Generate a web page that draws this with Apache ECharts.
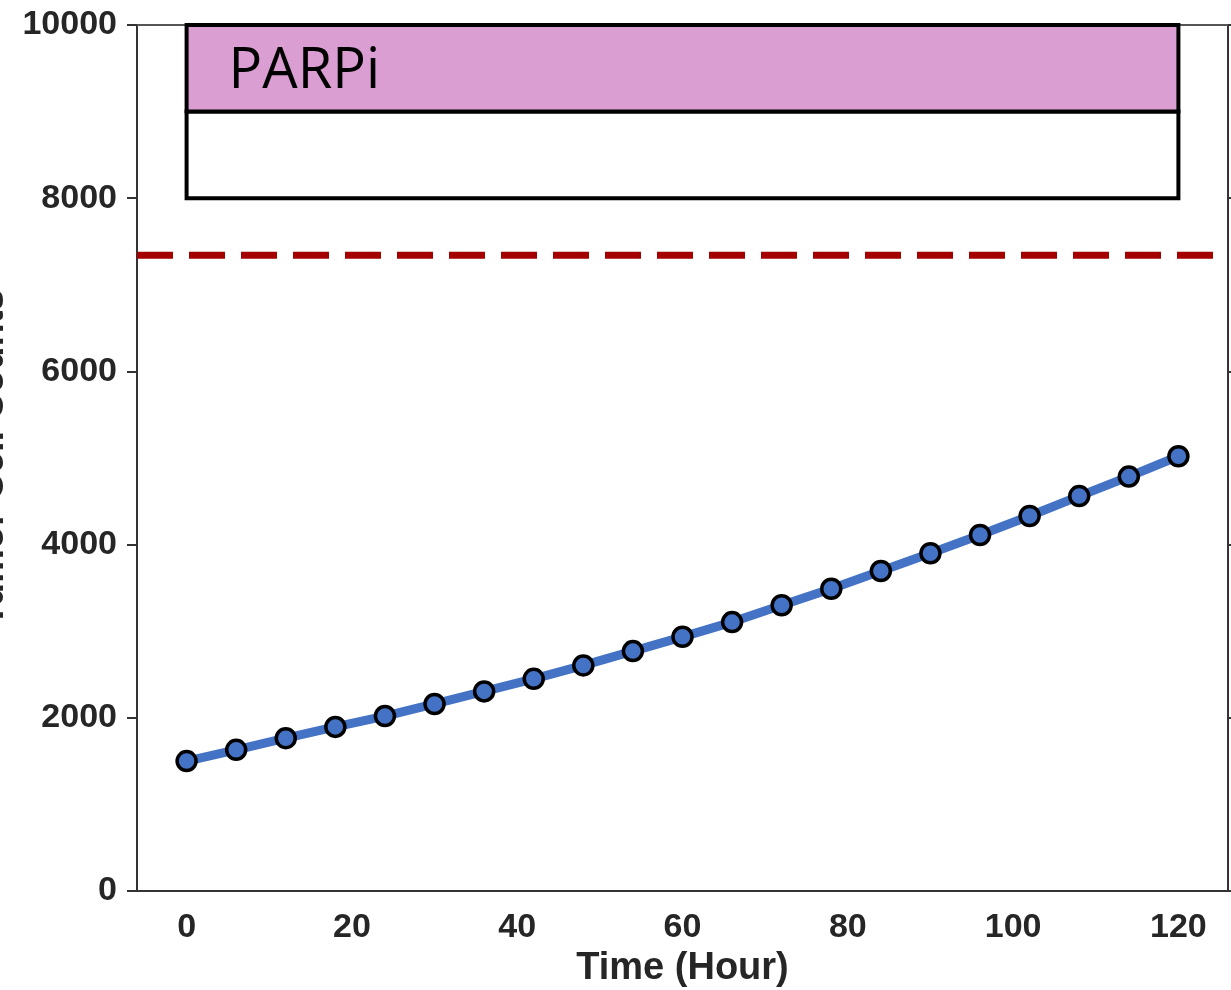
<!DOCTYPE html>
<html>
<head>
<meta charset="utf-8">
<script src="https://cdn.jsdelivr.net/npm/echarts@6/dist/echarts.min.js"></script>
<style>
  html, body { margin: 0; padding: 0; background: #fff; }
  #chart { width: 1231px; height: 990px; }
</style>
</head>
<body>
<div id="chart"></div>
<script>
// 数据
const hours = [0, 6, 12, 18, 24, 30, 36, 42, 48, 54, 60, 66, 72, 78, 84, 90, 96, 102, 108, 114, 120]
const cellCounts = [1500, 1630, 1765, 1895, 2020, 2160, 2305, 2450, 2605, 2770, 2935, 3105, 3300, 3490, 3695, 3900, 4110, 4330, 4560, 4785, 5020]
const thresholdValue = 7340
const xTicks = [0, 20, 40, 60, 80, 100, 120]
// 治疗方案框
const drugBox = { name: 'PARPi', start: 0, end: 120, low: 9000, high: 10000 }
const emptyBox = { start: 0, end: 120, low: 8000, high: 9000 }

const axisColor = '#333'
const textColor = '#262626'
const font = 'Liberation Sans, Arial, sans-serif'

const chart = echarts.init(document.getElementById('chart'))

const option = {
  animation: false,
  backgroundColor: '#fff',
  grid: {
    left: 137,
    right: 3,
    top: 25,
    bottom: 99,
    containLabel: false,
    outerBoundsMode: 'none'
  },
  xAxis: [
    {
      type: 'value',
      min: -6,
      max: 126,
      name: 'Time (Hour)',
      nameLocation: 'middle',
      nameGap: 52,
      nameTextStyle: { fontFamily: font, fontWeight: 'bold', fontSize: 38, color: textColor },
      axisLine: { show: true, onZero: false, lineStyle: { color: axisColor, width: 2 } },
      axisTick: { show: false },
      splitLine: { show: false },
      axisLabel: {
        customValues: xTicks,
        margin: 20,
        fontFamily: font,
        fontWeight: 'bold',
        fontSize: 34,
        color: textColor,
        formatter: (v) => String(v)
      }
    },
    {
      type: 'value',
      position: 'top',
      min: -6,
      max: 126,
      axisLine: { show: true, onZero: false, lineStyle: { color: '#555', width: 2 } },
      axisTick: { show: false },
      axisLabel: { show: false },
      splitLine: { show: false }
    }
  ],
  yAxis: [
    {
      type: 'value',
      min: 0,
      max: 10000,
      interval: 2000,
      name: 'Tumor Cell Counts',
      nameLocation: 'middle',
      nameGap: 124,
      nameTextStyle: { fontFamily: font, fontWeight: 'bold', fontSize: 38, color: textColor },
      axisLine: { show: true, onZero: false, lineStyle: { color: axisColor, width: 2 } },
      axisTick: { show: true, inside: false, length: 10, lineStyle: { color: axisColor, width: 2 } },
      splitLine: { show: false },
      axisLabel: {
        margin: 20,
        fontFamily: font,
        fontWeight: 'bold',
        fontSize: 34,
        color: textColor,
        formatter: (v) => String(v)
      }
    },
    {
      type: 'value',
      position: 'right',
      min: 0,
      max: 10000,
      interval: 2000,
      axisLine: { show: true, onZero: false, lineStyle: { color: axisColor, width: 2 } },
      axisTick: { show: true, inside: false, length: 10, lineStyle: { color: axisColor, width: 2 } },
      axisLabel: { show: false },
      splitLine: { show: false }
    }
  ],
  series: [
    {
      // 方框
      type: 'line',
      data: [],
      z: 1,
      markArea: {
        silent: true,
        itemStyle: { borderColor: '#000', borderWidth: 4 },
        data: [
          [
            { xAxis: emptyBox.start, yAxis: emptyBox.low, itemStyle: { color: '#fff' }, label: { show: false } },
            { xAxis: emptyBox.end, yAxis: emptyBox.high }
          ],
          [
            {
              name: drugBox.name,
              xAxis: drugBox.start,
              yAxis: drugBox.low,
              itemStyle: { color: '#DA9ED2' },
              label: {
                show: true,
                position: 'insideLeft',
                distance: 44,
                offset: [0, 4],
                fontFamily: 'Open Sans, sans-serif',
                fontSize: 56,
                color: '#000'
              }
            },
            { xAxis: drugBox.end, yAxis: drugBox.high }
          ]
        ]
      }
    },
    {
      // 阈值虚线
      type: 'line',
      z: 2,
      symbol: 'none',
      silent: true,
      data: [[-6, thresholdValue], [126, thresholdValue]],
      lineStyle: { color: '#A50000', width: 7, type: [36, 16] }
    },
    {
      type: 'line',
      z: 3,
      data: hours.map((h, i) => [h, cellCounts[i]]),
      symbol: 'circle',
      symbolSize: 19,
      lineStyle: { color: '#4472C4', width: 9 },
      itemStyle: { color: '#4472C4', borderColor: '#000', borderWidth: 3.5 }
    }
  ]
}

chart.setOption(option)
</script>
</body>
</html>
